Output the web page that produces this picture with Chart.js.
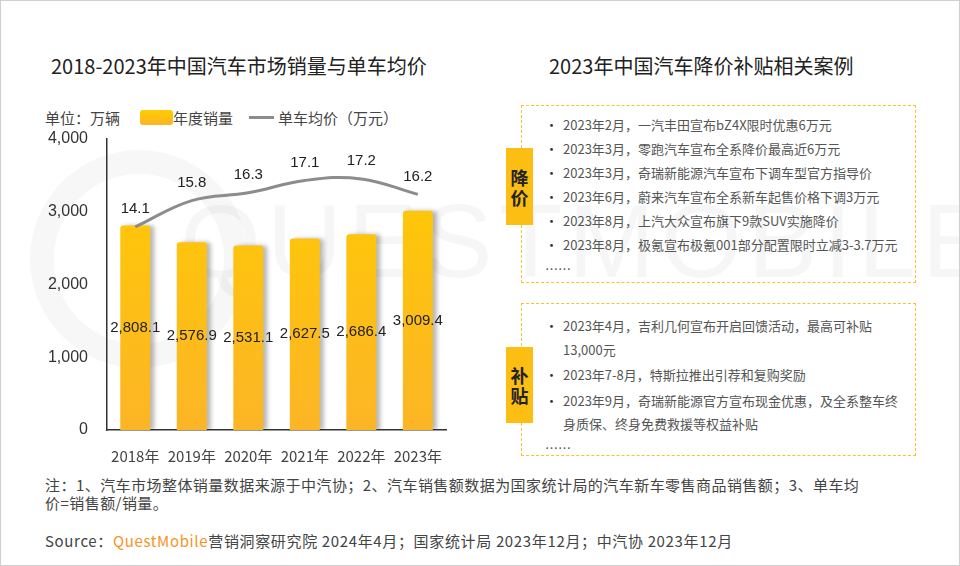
<!DOCTYPE html>
<html>
<head>
<meta charset="utf-8">
<script src="https://cdn.jsdelivr.net/npm/chart.js@4"></script>
<style>
  html, body { margin: 0; padding: 0; background: #fff; }
  body { width: 960px; height: 566px; position: relative; overflow: hidden;
         font-family: "Noto Sans CJK SC", "Noto Sans", sans-serif; color: #333; }
  .frame { position: absolute; left: 0; top: 0; width: 958px; height: 564px; border: 1px solid #cfcfcf; }
  .title { position: absolute; top: 50px; font-size: 20px; color: #222; white-space: nowrap; line-height: 32px; }
  .legend { position: absolute; top: 106px; left: 45px; font-size: 15px; color: #444; line-height: 20px; white-space: nowrap; }
  .legend span { display: inline-block; vertical-align: middle; }
  .lg-bar { width: 33px; height: 15px; border-radius: 3px; background: linear-gradient(#ffcc00, #fcb526); margin-left: 20px; }
  .lg-line { width: 25px; height: 3px; background: #8c8c8c; margin-left: 16px; margin-right: 4px; }
  #wrap { position: absolute; left: 40px; top: 110px; width: 420px; height: 354px; }
  .box { position: absolute; left: 521px; width: 393px; border: 1px dashed #fcc02a; }
  .tag { position: absolute; left: 506px; width: 27px; background: #fdbe14; color: #222; font-weight: bold;
         font-size: 18px; text-align: center; line-height: 20px; display: flex; flex-direction: column; justify-content: center; }
  .list { position: absolute; left: 545px; font-size: 13px; color: #555; white-space: nowrap; }
  .list div { position: relative; padding-left: 18px; }
  .list div.b::before { content: "•"; position: absolute; left: 0; color: #333; }
  .note { position: absolute; left: 45px; font-size: 15px; color: #444; white-space: nowrap; line-height: 18px; }
  .wm { position: absolute; left: 180px; top: 182px; font-family: "Liberation Sans", Arial, sans-serif; font-size: 104px;
        color: rgba(0,0,0,0.035); letter-spacing: 6px; white-space: nowrap; }
  .ring { position: absolute; left: 30px; top: 150px; width: 170px; height: 170px; border-radius: 50%;
          border: 24px solid rgba(0,0,0,0.03); }
</style>
</head>
<body>
<div class="ring"></div>
<div class="wm">QUESTMOBILE</div>
<div class="frame"></div>

<div class="title" style="left:51px">2018-2023年中国汽车市场销量与单车均价</div>
<div class="title" style="left:549px">2023年中国汽车降价补贴相关案例</div>

<div class="legend">
  <span>单位：万辆</span><span class="lg-bar"></span><span>年度销量</span><span class="lg-line"></span><span>单车均价（万元）</span>
</div>

<div id="wrap"><canvas id="myChart"></canvas></div>

<div class="box" style="top:105px;height:176px"></div>
<div class="tag" style="top:148px;height:77px"><div>降</div><div>价</div></div>
<div class="list" style="top:113px;line-height:24px">
  <div class="b">2023年2月，一汽丰田宣布bZ4X限时优惠6万元</div>
  <div class="b">2023年3月，零跑汽车宣布全系降价最高近6万元</div>
  <div class="b">2023年3月，奇瑞新能源汽车宣布下调车型官方指导价</div>
  <div class="b">2023年6月，蔚来汽车宣布全系新车起售价格下调3万元</div>
  <div class="b">2023年8月，上汽大众宣布旗下9款SUV实施降价</div>
  <div class="b">2023年8月，极氪宣布极氪001部分配置限时立减3-3.7万元</div>
  <div style="padding-left:0">……</div>
</div>

<div class="box" style="top:303px;height:151px"></div>
<div class="tag" style="top:347px;height:76px"><div>补</div><div>贴</div></div>
<div class="list" style="top:314px;line-height:23.5px">
  <div class="b">2023年4月，吉利几何宣布开启回馈活动，最高可补贴<br>13,000元</div>
  <div class="b" style="margin-top:2px">2023年7-8月，特斯拉推出引荐和复购奖励</div>
  <div class="b" style="margin-top:2px">2023年9月，奇瑞新能源官方宣布现金优惠，及全系整车终<br>身质保、终身免费救援等权益补贴</div>
  <div style="padding-left:0">……</div>
</div>

<div class="note" style="top:476px;letter-spacing:0.45px">注：1、汽车市场整体销量数据来源于中汽协；2、汽车销售额数据为国家统计局的汽车新车零售商品销售额；3、单车均<br>价=销售额/销量。</div>
<div class="note" style="top:532px;letter-spacing:0.65px">Source：<span style="color:#f7931e">QuestMobile</span>营销洞察研究院 2024年4月；国家统计局 2023年12月；中汽协 2023年12月</div>

<script>
const years = ['2018年', '2019年', '2020年', '2021年', '2022年', '2023年'];
const sales = [2808.1, 2576.9, 2531.1, 2627.5, 2686.4, 3009.4];
const prices = [14.1, 15.8, 16.3, 17.1, 17.2, 16.2];
const salesTicks = [0, 1000, 2000, 3000, 4000];

const numFont = '"Liberation Sans", Arial, sans-serif';

// shadow on the right side of bars
const barShadow = {
  id: 'barShadow',
  beforeDatasetDraw(chart, args) {
    if (args.meta.type !== 'bar') return;
    const c = chart.ctx;
    c.save();
    c.shadowColor = 'rgba(0,0,0,0.28)';
    c.shadowOffsetX = 4;
    c.shadowOffsetY = 0;
    c.shadowBlur = 4;
  },
  afterDatasetDraw(chart, args) {
    if (args.meta.type !== 'bar') return;
    chart.ctx.restore();
  }
};

// value labels
const valueLabels = {
  id: 'valueLabels',
  afterDatasetsDraw(chart) {
    const c = chart.ctx;
    c.save();
    c.font = '15px ' + numFont;
    c.fillStyle = '#222';
    c.textAlign = 'center';
    c.textBaseline = 'middle';
    chart.getDatasetMeta(0).data.forEach((bar, i) => {
      const y = (bar.y + bar.base) / 2;
      c.fillText(sales[i].toLocaleString('en-US', { minimumFractionDigits: 1 }), bar.x, y);
    });
    chart.getDatasetMeta(1).data.forEach((pt, i) => {
      c.fillText(prices[i].toFixed(1), pt.x, pt.y - 18);
    });
    c.restore();
  }
};

let ctx = document.getElementById('myChart').getContext('2d');
let myChart = new Chart(ctx, {
  data: {
    labels: years,
    datasets: [{
      type: 'bar',
      label: '年度销量',
      data: sales,
      yAxisID: 'y',
      order: 2,
      backgroundColor: function (context) {
        const area = context.chart.chartArea;
        if (!area) return '#fdbe14';
        const g = context.chart.ctx.createLinearGradient(0, area.top, 0, area.bottom);
        g.addColorStop(0, '#ffcc00');
        g.addColorStop(1, '#fcb526');
        return g;
      },
      borderRadius: { topLeft: 3, topRight: 3 },
      borderSkipped: 'bottom',
      barPercentage: 0.53,
      categoryPercentage: 1
    }, {
      type: 'line',
      label: '单车均价（万元）',
      data: prices,
      yAxisID: 'y1',
      order: 1,
      borderColor: '#8c8c8c',
      borderWidth: 3,
      pointRadius: 0,
      tension: 0.4,
      fill: false
    }]
  },
  options: {
    responsive: true,
    maintainAspectRatio: false,
    animation: false,
    layout: { padding: { top: 12, right: 12, left: 0, bottom: 0 } },
    plugins: { legend: { display: false }, tooltip: { enabled: false } },
    scales: {
      x: {
        afterFit(scale) { scale.height = 34; },
        grid: { display: false, drawTicks: false },
        border: { display: true, color: '#333', width: 1.5 },
        ticks: { color: '#444', padding: 17, font: { size: 15, family: '"Noto Sans CJK SC", sans-serif' } }
      },
      y: {
        position: 'left',
        min: 0,
        max: 4000,
        afterBuildTicks(scale) { scale.ticks = salesTicks.map(v => ({ value: v })); },
        afterFit(scale) { scale.width = 67; },
        grid: { display: false, drawTicks: false },
        border: { display: true, color: '#333', width: 1.5 },
        ticks: {
          color: '#333', padding: 19, font: { size: 16, family: numFont },
          callback: v => v.toLocaleString('en-US')
        }
      },
      y1: { display: false, min: 1, max: 19.8 }
    }
  },
  plugins: [barShadow, valueLabels]
});
</script>
</body>
</html>
